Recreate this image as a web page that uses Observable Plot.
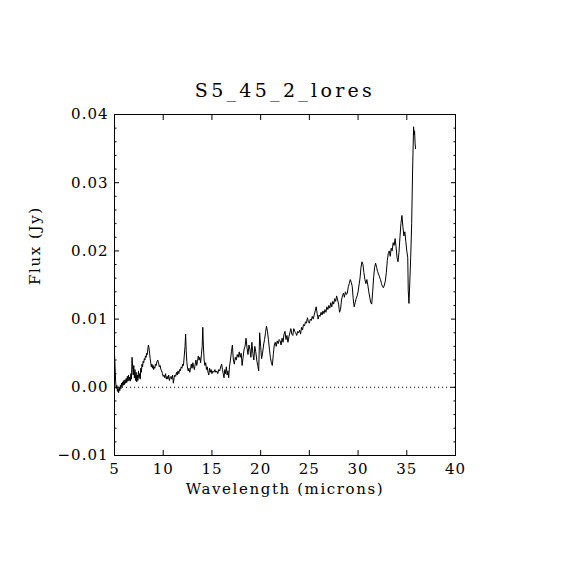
<!DOCTYPE html>
<html><head><meta charset="utf-8">
<script src="https://cdn.jsdelivr.net/npm/d3@7"></script>
<script src="https://cdn.jsdelivr.net/npm/@observablehq/plot@0.6"></script>
<style>
body{margin:0;background:#fff;}
#chart svg{display:block;}
g[aria-label="x-axis tick label"] text, g[aria-label="y-axis tick label"] text{letter-spacing:1px;}
</style></head><body><div id="chart"></div>
<script>
const wavelength = [
5.00,5.06,5.12,5.18,5.24,5.30,5.36,5.42,5.48,5.54,5.60,5.66,5.72,5.78,5.84,5.90,5.96,6.02,6.08,6.14,
6.20,6.26,6.32,6.38,6.44,6.50,6.56,6.62,6.68,6.74,6.80,6.86,6.92,6.98,7.04,7.10,7.16,7.22,7.28,7.34,
7.40,7.46,7.52,7.58,7.64,7.70,7.76,7.82,7.88,7.94,8.00,8.06,8.12,8.18,8.24,8.30,8.36,8.42,8.48,8.54,
8.60,8.66,8.72,8.78,8.84,8.90,8.96,9.02,9.08,9.14,9.20,9.28,9.36,9.44,9.52,9.60,9.68,9.76,9.84,9.92,
10.00,10.08,10.16,10.24,10.32,10.40,10.48,10.56,10.64,10.72,10.80,10.88,10.96,11.04,11.12,11.20,11.28,11.36,11.44,11.52,
11.60,11.68,11.76,11.84,11.92,12.00,12.08,12.16,12.24,12.30,12.36,12.42,12.48,12.56,12.64,12.72,12.80,12.88,12.96,13.04,
13.12,13.20,13.28,13.36,13.44,13.52,13.60,13.68,13.76,13.84,13.92,14.00,14.06,14.12,14.20,14.28,14.36,14.44,14.52,14.60,
14.68,14.76,14.84,14.92,15.00,15.10,15.20,15.30,15.40,15.50,15.60,15.70,15.80,15.90,16.00,16.08,16.16,16.24,16.32,16.40,
16.48,16.56,16.64,16.72,16.80,16.90,17.00,17.10,17.20,17.30,17.40,17.50,17.60,17.70,17.80,17.90,18.00,18.10,18.20,18.30,
18.40,18.50,18.60,18.70,18.80,18.90,19.00,19.10,19.20,19.30,19.40,19.50,19.60,19.70,19.80,19.90,20.00,20.10,20.20,20.30,
20.40,20.50,20.60,20.70,20.80,20.90,21.00,21.10,21.20,21.30,21.40,21.50,21.60,21.70,21.80,21.90,22.00,22.10,22.20,22.30,
22.40,22.50,22.60,22.70,22.80,22.90,23.00,23.10,23.20,23.30,23.40,23.50,23.60,23.70,23.80,23.90,24.00,24.10,24.20,24.30,
24.40,24.50,24.60,24.70,24.80,24.90,25.00,25.10,25.20,25.30,25.40,25.50,25.60,25.70,25.80,25.90,26.00,26.10,26.20,26.30,
26.40,26.50,26.60,26.70,26.80,26.90,27.00,27.10,27.20,27.30,27.40,27.50,27.60,27.70,27.80,27.90,28.00,28.10,28.20,28.30,
28.40,28.50,28.60,28.70,28.80,28.90,29.00,29.10,29.20,29.30,29.40,29.50,29.60,29.70,29.80,29.90,30.00,30.10,30.20,30.30,
30.40,30.50,30.60,30.70,30.80,30.90,31.00,31.10,31.20,31.30,31.40,31.50,31.60,31.70,31.80,31.90,32.00,32.10,32.20,32.30,
32.40,32.50,32.60,32.70,32.80,32.90,33.00,33.10,33.20,33.30,33.40,33.50,33.60,33.70,33.80,33.90,34.00,34.10,34.20,34.30,
34.40,34.50,34.60,34.70,34.80,34.90,35.00,35.10,35.15,35.22,35.30,35.40,35.50,35.60,35.70,35.75,35.80,35.85,35.90
];
const flux = [
0.0050,0.0030,0.0008,-0.0002,0.0003,-0.0006,-0.0002,-0.0008,0.0000,-0.0005,0.0003,-0.0002,0.0006,0.0001,0.0008,0.0003,0.0010,0.0004,0.0011,0.0006,
0.0013,0.0007,0.0016,0.0009,0.0018,0.0010,0.0015,0.0009,0.0020,0.0012,0.0044,0.0030,0.0018,0.0032,0.0014,0.0026,0.0010,0.0022,0.0008,0.0018,
0.0010,0.0024,0.0014,0.0020,0.0012,0.0028,0.0022,0.0034,0.0030,0.0038,0.0036,0.0042,0.0040,0.0046,0.0044,0.0050,0.0048,0.0056,0.0062,0.0058,
0.0050,0.0042,0.0036,0.0030,0.0034,0.0028,0.0032,0.0026,0.0030,0.0028,0.0034,0.0032,0.0038,0.0040,0.0036,0.0030,0.0032,0.0026,0.0024,0.0020,
0.0016,0.0018,0.0014,0.0020,0.0012,0.0016,0.0012,0.0018,0.0010,0.0014,0.0016,0.0012,0.0018,0.0006,0.0014,0.0018,0.0016,0.0022,0.0018,0.0024,
0.0020,0.0026,0.0024,0.0030,0.0028,0.0034,0.0032,0.0046,0.0060,0.0078,0.0054,0.0038,0.0030,0.0024,0.0028,0.0022,0.0026,0.0034,0.0028,0.0036,
0.0030,0.0026,0.0034,0.0040,0.0032,0.0038,0.0046,0.0040,0.0044,0.0036,0.0048,0.0060,0.0088,0.0062,0.0040,0.0032,0.0036,0.0026,0.0030,0.0022,
0.0018,0.0028,0.0022,0.0026,0.0020,0.0024,0.0022,0.0026,0.0022,0.0024,0.0020,0.0026,0.0024,0.0030,0.0034,0.0026,0.0020,0.0014,0.0026,0.0020,
0.0030,0.0018,0.0024,0.0014,0.0030,0.0040,0.0052,0.0062,0.0040,0.0034,0.0044,0.0040,0.0048,0.0044,0.0052,0.0044,0.0050,0.0032,0.0044,0.0056,
0.0060,0.0072,0.0058,0.0048,0.0062,0.0056,0.0044,0.0066,0.0050,0.0040,0.0060,0.0052,0.0040,0.0032,0.0024,0.0080,0.0060,0.0042,0.0050,0.0062,
0.0070,0.0080,0.0090,0.0082,0.0070,0.0056,0.0044,0.0036,0.0032,0.0048,0.0062,0.0066,0.0060,0.0068,0.0064,0.0070,0.0068,0.0062,0.0072,0.0066,
0.0078,0.0082,0.0070,0.0076,0.0066,0.0074,0.0080,0.0086,0.0078,0.0076,0.0086,0.0082,0.0080,0.0076,0.0082,0.0080,0.0084,0.0078,0.0088,0.0084,
0.0092,0.0090,0.0096,0.0094,0.0102,0.0096,0.0094,0.0100,0.0098,0.0104,0.0100,0.0106,0.0112,0.0118,0.0108,0.0100,0.0106,0.0104,0.0110,0.0106,
0.0112,0.0108,0.0114,0.0110,0.0118,0.0114,0.0120,0.0116,0.0124,0.0118,0.0126,0.0122,0.0130,0.0126,0.0134,0.0128,0.0122,0.0110,0.0114,0.0128,
0.0134,0.0138,0.0132,0.0140,0.0136,0.0138,0.0148,0.0152,0.0158,0.0154,0.0148,0.0130,0.0118,0.0124,0.0130,0.0134,0.0140,0.0150,0.0160,0.0176,
0.0184,0.0180,0.0168,0.0158,0.0152,0.0158,0.0150,0.0140,0.0132,0.0124,0.0122,0.0140,0.0162,0.0176,0.0182,0.0176,0.0170,0.0166,0.0162,0.0158,
0.0152,0.0148,0.0146,0.0150,0.0156,0.0168,0.0186,0.0196,0.0200,0.0192,0.0204,0.0200,0.0212,0.0208,0.0218,0.0206,0.0190,0.0184,0.0198,0.0220,
0.0240,0.0252,0.0236,0.0222,0.0228,0.0214,0.0200,0.0190,0.0142,0.0123,0.0150,0.0190,0.0240,0.0320,0.0382,0.0370,0.0376,0.0358,0.0350
];
const xTicks = [5, 10, 15, 20, 25, 30, 35, 40];
const yTicks = [-0.01, 0.00, 0.01, 0.02, 0.03, 0.04];
const yMinorTicks = [-0.008,-0.006,-0.004,-0.002,0.002,0.004,0.006,0.008,0.012,0.014,0.016,0.018,0.022,0.024,0.026,0.028,0.032,0.034,0.036,0.038];
const zeroLine = [0];
const titleText = "S5_45_2_lores";
const xLabelText = "Wavelength (microns)";
const yLabelText = "Flux (Jy)";

const spectrum = wavelength.map((w, i) => ({w, f: flux[i]}));
const blank = () => "";

const chart = Plot.plot({
  width: 570,
  height: 570,
  marginLeft: 114,
  marginRight: 115,
  marginTop: 114,
  marginBottom: 115,
  style: {fontFamily: "'DejaVu Serif', serif", fontSize: "15px", color: "black", background: "white"},
  x: {domain: [5, 40]},
  y: {domain: [-0.01, 0.04]},
  marks: [
    Plot.ruleY(zeroLine, {stroke: "black", strokeWidth: 1, strokeDasharray: "1,3"}),
    Plot.line(spectrum, {x: "w", y: "f", stroke: "black", strokeWidth: 1}),
    Plot.frame({stroke: "black", strokeWidth: 1}),
    Plot.axisX(xTicks, {anchor: "bottom", tickSize: -5, tickPadding: 13, tickFormat: d3.format("d"), label: null, fill: "black"}),
    Plot.axisX(xTicks, {anchor: "top", tickSize: -5, tickFormat: blank, label: null}),
    Plot.axisY(yTicks, {anchor: "left", tickSize: -5, tickPadding: 11, tickFormat: d3.format(".2f"), label: null, fill: "black"}),
    Plot.axisY(yTicks, {anchor: "right", tickSize: -5, tickFormat: blank, label: null}),
    Plot.axisY(yMinorTicks, {anchor: "left", tickSize: -2.5, tickFormat: blank, label: null}),
    Plot.axisY(yMinorTicks, {anchor: "right", tickSize: -2.5, tickFormat: blank, label: null}),
    Plot.text([titleText], {frameAnchor: "top", dy: -31, fontSize: 19, fill: "black"}),
    Plot.text([xLabelText], {frameAnchor: "bottom", dy: 38, fontSize: 15, fill: "black"}),
    Plot.text([yLabelText], {frameAnchor: "left", dx: -79, rotate: -90, fontSize: 15, fill: "black"})
  ]
});
document.getElementById("chart").appendChild(chart);
const textGroups = d3.select(chart).selectAll('g[aria-label="text"]').nodes();
const spacings = ["3.3px", "1.6px", "1.6px"];
textGroups.forEach((g, i) => d3.select(g).selectAll("text").style("letter-spacing", spacings[i] || "0px"));
</script></body></html>
